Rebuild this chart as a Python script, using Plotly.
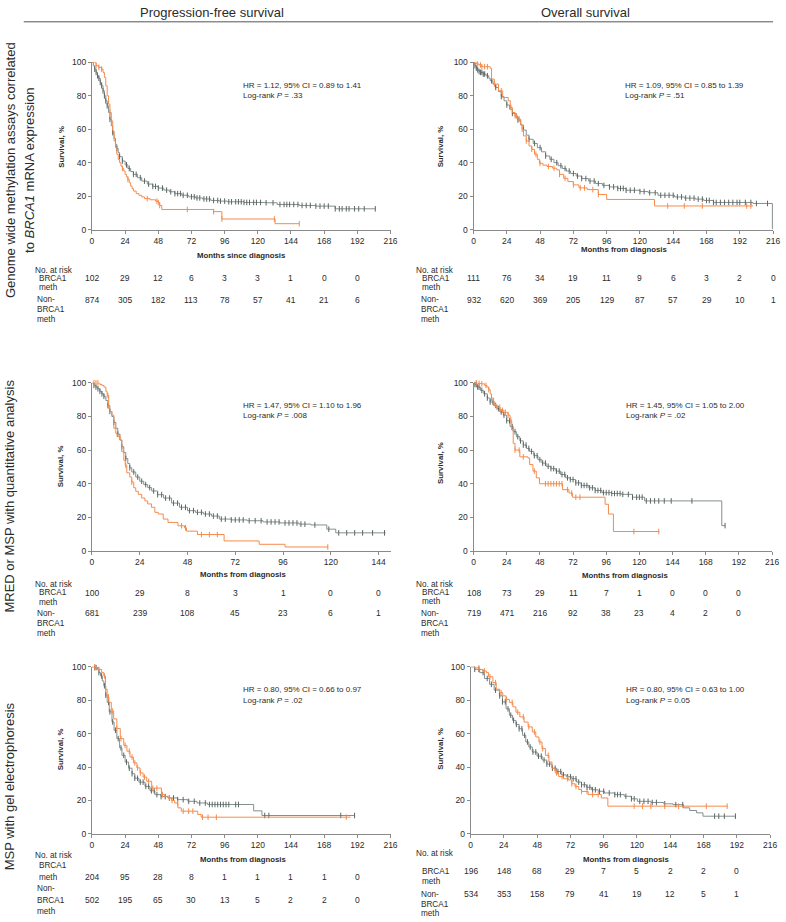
import numpy as np
import plotly.graph_objects as go

# ---------------- DATA ----------------
x_ticks_216 = [0, 24, 48, 72, 96, 120, 144, 168, 192, 216]
x_ticks_144 = [0, 24, 48, 72, 96, 120, 144]
y_ticks = [0, 20, 40, 60, 80, 100]

# Panel 1: PFS, genome wide methylation
p1_meth_t = [0, 3, 5, 7, 8, 9, 10, 11, 12, 13, 14, 15, 16, 17, 18, 19, 20, 21, 22, 23, 24, 25, 26, 27, 28, 29, 30, 32, 34, 36, 38, 42, 46, 48, 49, 50.5, 88, 94, 132.5]
p1_meth_s = [100, 98, 97, 96, 94, 91, 86, 80, 75, 70, 65, 59, 53, 49, 45, 42, 40, 38, 36.5, 35, 33, 31.5, 30, 28, 26, 24.5, 23, 21.5, 20.5, 19.5, 18.5, 17.8, 17, 16.2, 14.4, 12, 10.7, 6.3, 3.5]
p1_meth_end = 150
p1_meth_cens = [3, 5, 7, 13, 22, 26, 40, 47, 48, 49, 69, 88, 94, 132, 150]
p1_non_t = [0, 1, 2, 3, 4, 5, 6, 7, 8, 9, 10, 11, 12, 13, 14, 15, 16, 17, 18, 19, 20, 22, 24, 26, 28, 30, 33, 36, 40, 44, 48, 52, 56, 60, 65, 70, 75, 80, 86, 92, 98, 110, 126, 134, 150, 162, 176]
p1_non_s = [100, 98, 96, 94, 92, 90.5, 88, 86, 83, 80, 77, 74, 70, 66, 62, 58, 54.5, 51, 48.5, 46, 43.6, 41, 38.7, 36.5, 34.7, 33, 31, 29, 27.2, 25.8, 24.8, 23.6, 22.6, 21.5, 20.5, 19.6, 18.9, 18.3, 17.4, 17, 16.6, 16.2, 16, 15, 14.4, 14, 12.4]
p1_non_end = 205
p1_non_cens = [2, 3, 4, 5, 6, 7, 8, 9, 10, 11, 13, 15, 18, 20, 22, 25, 27, 30, 32, 35, 38, 41, 44, 46, 48, 51, 54, 57, 60, 62, 64, 66, 69, 72, 74, 76, 78, 81, 83, 85, 88, 91, 93, 96, 99, 101, 104, 106, 108, 110, 112, 114, 117, 119, 122, 126, 131, 136, 139, 141, 143, 146, 149, 152, 155, 158, 162, 165, 168, 171, 176, 179, 181, 184, 186, 190, 193, 197, 205]
p1_risk_meth = [102, 29, 12, 6, 3, 3, 1, 0, 0]
p1_risk_non = [874, 305, 182, 113, 78, 57, 41, 21, 6]

# Panel 2: OS, genome wide methylation
p2_meth_t = [0, 2, 4, 6, 12, 13, 15, 18, 21, 25, 26.5, 28, 30, 32, 34, 35, 36, 38, 40, 42, 44, 46, 47.5, 50, 53, 57, 60, 62, 65, 68, 72, 76, 82, 90, 96, 130.5]
p2_meth_s = [100, 99, 98.4, 97.4, 96.5, 90, 87, 83, 79, 77, 73, 70, 68, 66, 63, 60, 56, 53, 50, 48, 45, 42, 39.6, 38.5, 37.7, 36.7, 35.7, 33, 30.6, 28.7, 26.7, 24.9, 23.9, 21, 18, 14.1]
p2_meth_end = 201.6
p2_meth_cens = [3, 5, 6, 8, 10, 15, 20, 27, 30, 31, 33, 35, 38, 42, 45, 48, 54, 58, 62, 66, 72, 77, 80, 86, 90, 140, 152, 165, 197, 200]
p2_non_t = [0, 1, 2, 3, 4, 5, 7, 9, 11, 12, 14, 16, 18, 20, 22, 24, 26, 28, 30, 32, 34, 36, 38, 40, 43, 46, 49, 52, 55, 58, 61, 64, 67, 70, 74, 78, 83, 88, 93, 98, 104, 110, 120, 126, 133, 145, 152, 160, 166, 173, 201.5, 215.5]
p2_non_s = [100, 98, 96.5, 95.5, 94.5, 94, 93, 92, 90.5, 89, 87, 85, 82.5, 79.5, 77, 74.5, 72, 69.5, 67.5, 65.5, 62.5, 59.5, 56.5, 54, 51.5, 49, 46.5, 44, 42, 40, 38.2, 36.5, 35, 33.5, 32, 30.5, 29, 27.5, 26.4, 25.5, 24.6, 23.5, 22.7, 22, 20.5, 19.5, 18.8, 18.2, 17.4, 16.2, 15.6, 0]
p2_non_end = 215.5
p2_non_cens = [1, 2, 3, 4, 5, 6, 7, 8, 10, 13, 16, 20, 24, 28, 32, 36, 40, 44, 48, 52, 56, 60, 63, 66, 69, 72, 75, 78, 81, 84, 87, 90, 94, 98, 101, 104, 106, 108, 110, 113, 116, 120, 123, 127, 131, 135, 138, 141, 144, 147, 150, 153, 156, 159, 162, 165, 168, 170, 173, 175, 178, 181, 184, 187, 190, 192, 196, 200, 204, 212]
p2_risk_meth = [111, 76, 34, 19, 11, 9, 6, 3, 2, 0]
p2_risk_non = [932, 620, 369, 205, 129, 87, 57, 29, 10, 1]

# Panel 3: PFS, MRED or MSP quantitative
p3_meth_t = [0, 4, 5, 6, 7, 7.6, 8.4, 9, 10, 11, 12, 12.6, 14.2, 15, 16, 16.7, 17.5, 19, 20, 21, 22, 23.3, 25, 26.6, 28, 29.9, 31.6, 33.3, 35.8, 38.2, 43.2, 46.5, 47.5, 53, 66.4, 84, 97]
p3_meth_s = [100, 99, 98.5, 97.5, 95, 92.5, 84.7, 83, 80.8, 73, 70, 68, 66, 59, 54, 51, 46.5, 44, 41, 37.6, 35.5, 33.7, 31.5, 29.8, 28, 26, 23, 22, 19, 17, 15, 13.8, 11.8, 9.8, 6, 4, 2.4]
p3_meth_end = 118.7
p3_meth_cens = [1, 2, 3, 8, 14, 17, 20, 45, 47, 55, 59, 63, 118.5]
p3_non_t = [0, 1, 2, 3, 4, 5, 6, 7, 8, 9, 10, 11, 12, 13, 14, 15, 16, 17, 18, 19, 20, 22, 24, 26, 28, 30, 33, 36, 40, 44, 48, 52, 56, 60, 64, 70, 78, 86, 94.5, 104, 110, 118, 122.5]
p3_non_s = [100, 98.5, 97.5, 96.5, 95, 93.5, 92, 89.5, 86.5, 83, 80, 76.5, 73, 69.5, 66, 62, 58.5, 55, 52, 49.5, 47, 44, 41.5, 39.5, 37.7, 35.7, 33.5, 31.5, 28.5, 26, 24, 23, 22, 20.8, 19, 18.5, 18, 17.3, 16.7, 16, 15.5, 13, 10.8]
p3_non_end = 147.5
p3_non_cens = [1, 2, 3, 4, 5, 6, 8, 9, 11, 13, 15, 17, 19, 21, 23, 25, 27, 29, 31, 33, 35, 37, 39, 41, 43, 45, 47, 49, 51, 53, 55, 57, 59, 61, 63, 65, 67, 70, 72, 74, 76, 79, 82, 85, 88, 90, 92, 94, 97, 99, 101, 103, 105, 107, 112, 119, 124, 128, 132, 136, 141, 147]
p3_risk_meth = [100, 29, 8, 3, 1, 0, 0]
p3_risk_non = [681, 239, 108, 45, 23, 6, 1]

# Panel 4: OS, MRED or MSP quantitative
p4_meth_t = [0, 3, 6, 8, 9.7, 11, 12, 13, 14.5, 16, 19.2, 22, 25, 26.4, 27.6, 28.7, 30, 33.5, 39.4, 40.6, 43, 45.4, 47.7, 64.4, 69, 71.5, 95.2, 97.6, 101.2]
p4_meth_s = [100, 99.7, 99.4, 98.5, 97.5, 96, 93.5, 91, 87.6, 85.5, 83.7, 82.5, 80.8, 77.8, 72, 64, 60, 56, 55.3, 51.4, 47.5, 43.5, 40, 36.5, 34.5, 32, 27.8, 22, 11.6]
p4_meth_end = 134.4
p4_meth_cens = [2, 4, 6, 9, 11, 13, 15, 17, 19, 21, 23, 25, 27, 30, 33, 36, 44, 52, 54, 56, 58, 60, 62, 64, 68, 71, 74, 77, 116, 134]
p4_non_t = [0, 1, 2.6, 5, 7.4, 10, 12, 14.5, 16.9, 19, 21.6, 24, 26.4, 28.7, 31, 33.5, 36, 38.3, 40.6, 43.6, 46.6, 49.5, 52.5, 56, 59.6, 63, 66.7, 70, 73.9, 78, 83.4, 88, 92.9, 100, 107, 115, 123.8, 179.6]
p4_non_s = [100, 99, 97.5, 95.5, 93.5, 91, 88.6, 86.6, 84.7, 82.7, 80.8, 77.5, 74, 71, 68, 65.5, 63, 61, 59.2, 56.7, 54.3, 52.3, 50.4, 49, 47.5, 45.5, 43.5, 42.5, 40.5, 39, 37.6, 36, 34.7, 34.2, 33.7, 32, 29.8, 15.1]
p4_non_end = 182
p4_non_cens = [1, 2, 3, 4, 6, 8, 10, 12, 14, 16, 18, 20, 22, 24, 26, 28, 30, 32, 34, 36, 38, 40, 42, 44, 46, 48, 50, 52, 54, 56, 58, 60, 62, 64, 66, 68, 70, 72, 74, 76, 78, 80, 82, 84, 86, 88, 90, 92, 94, 96, 98, 100, 102, 104, 106, 108, 112, 115, 118, 120, 122, 125, 128, 131, 134, 138, 143, 158, 182]
p4_risk_meth = [108, 73, 29, 11, 7, 1, 0, 0, 0]
p4_risk_non = [719, 471, 216, 92, 38, 23, 4, 2, 0]

# Panel 5: PFS, MSP with gel electrophoresis
p5_meth_t = [0, 3, 5, 7, 8.6, 9.8, 11, 12.2, 14, 15.7, 18, 20.5, 23, 25.3, 27.5, 30, 32.5, 34.8, 37, 39.6, 43.2, 50.3, 52.5, 55, 57.5, 59.8, 62.2, 64.6, 76.5, 79]
p5_meth_s = [100, 99.5, 98.4, 96.5, 94.5, 86.6, 82, 78.7, 73.5, 68.8, 63, 57, 53, 49.5, 46, 42.5, 39.5, 36.5, 34, 31.5, 27.4, 23.5, 22.5, 21.5, 20, 18.5, 15.6, 13.6, 11.6, 10]
p5_meth_end = 187
p5_meth_cens = [2, 5, 9, 12, 15, 18, 21, 24, 27, 29, 31, 33, 35, 38, 41, 44, 47, 51, 56, 58, 62, 66, 70, 73, 80, 84, 90, 184]
p5_non_t = [0, 2, 4, 5, 6.2, 7.5, 8.6, 10, 11, 12.5, 14.5, 16, 18, 20, 21.7, 24, 26.5, 29, 31, 34, 38.4, 42, 45.5, 50, 55, 62, 69.4, 76, 83.7, 117, 123]
p5_non_s = [100, 99.5, 98.4, 96.5, 94.5, 91.5, 88.6, 83, 78.7, 73, 67, 62, 57, 51.5, 47, 43, 39.3, 36, 33.3, 31, 28.4, 25.8, 23.5, 22.3, 21.5, 20.5, 19.5, 18.5, 17.6, 13.8, 11]
p5_non_end = 190
p5_non_cens = [2, 3, 5, 7, 9, 10, 12, 13, 15, 17, 19, 21, 23, 25, 27, 29, 31, 33, 35, 37, 39, 41, 43, 45, 47, 50, 53, 56, 59, 62, 66, 70, 74, 78, 82, 85, 87, 89, 91, 93, 95, 97, 99, 104, 106, 125, 128, 180, 190]
p5_risk_meth = [204, 95, 28, 8, 1, 1, 1, 1, 0]
p5_risk_non = [502, 195, 65, 30, 13, 5, 2, 2, 0]

# Panel 6: OS, MSP with gel electrophoresis
p6_meth_t = [0, 3, 6.6, 9, 11.4, 13, 16.1, 18.5, 21, 23.2, 25.5, 28, 30.5, 32.7, 35.5, 38.6, 41.5, 44.5, 47, 49.3, 51.5, 54, 56.5, 58.7, 61, 63.5, 67, 70.6, 73, 75.3, 78, 80, 84.8, 94.3, 99]
p6_meth_s = [100, 99.3, 98.4, 97.5, 96.5, 94, 90.5, 86.6, 84.5, 82.6, 80.5, 78.7, 76, 72.8, 70, 66.9, 64, 61, 58, 55, 51, 47, 43, 39.3, 36.5, 34.3, 33, 32.3, 30, 28.4, 26.5, 25.4, 23.5, 21.5, 16.6]
p6_meth_end = 185.5
p6_meth_cens = [6, 10, 14, 18, 22, 26, 30, 34, 38, 42, 46, 50, 52, 56, 62, 66, 70, 73, 76, 80, 84, 88, 92, 118, 124, 130, 140, 150, 170, 185]
p6_non_t = [0, 3, 6.6, 10, 13.7, 17, 20.8, 23, 25.6, 28, 30.3, 32.7, 35, 37.5, 39.8, 42, 44.5, 48, 51.6, 55, 58.7, 62, 65.8, 69, 73, 76.5, 80, 83.5, 87.2, 92, 96.6, 104, 110.8, 116, 120.3, 130, 139.3, 146, 153.5, 158, 163, 167.6]
p6_non_s = [100, 98.5, 96.5, 93, 89.5, 86, 82.6, 79, 74.8, 71, 67.9, 65.5, 62.9, 59, 55, 52, 49, 46.5, 44.2, 41.8, 39.3, 37.3, 35.3, 34.2, 33, 31, 29.4, 27.9, 26.4, 25.5, 24.5, 23.5, 22.5, 21, 19.5, 18.8, 18, 17.5, 15.6, 14, 12.6, 10.6]
p6_non_end = 191.4
p6_non_cens = [3, 6, 9, 12, 15, 18, 21, 23, 25, 27, 29, 31, 33, 35, 37, 39, 41, 43, 45, 47, 49, 51, 53, 55, 57, 59, 61, 63, 65, 67, 70, 72, 74, 76, 78, 80, 82, 84, 86, 88, 90, 93, 96, 100, 104, 106, 108, 112, 116, 118, 122, 125, 128, 131, 134, 140, 148, 153, 176, 179, 183, 191]
p6_risk_meth = [196, 148, 68, 29, 7, 5, 2, 2, 0]
p6_risk_non = [534, 353, 158, 79, 41, 19, 12, 5, 1]

hr_texts = [
    ("HR = 1.12, 95% CI = 0.89 to 1.41", "Log-rank <i>P</i> = .33"),
    ("HR = 1.09, 95% CI = 0.85 to 1.39", "Log-rank <i>P</i> = .51"),
    ("HR = 1.47, 95% CI = 1.10 to 1.96", "Log-rank <i>P</i> = .008"),
    ("HR = 1.45, 95% CI = 1.05 to 2.00", "Log-rank <i>P</i> = .02"),
    ("HR = 0.80, 95% CI = 0.66 to 0.97", "Log-rank <i>P</i> = .02"),
    ("HR = 0.80, 95% CI = 0.63 to 1.00", "Log-rank <i>P</i> = 0.05"),
]
x_titles = ["Months since diagnosis", "Months from diagnosis", "Months from diagnosis",
            "Months from diagnosis", "Months from diagnosis", "Months from diagnosis"]
col_titles = ["Progression-free survival", "Overall survival"]
row_titles = [["Genome wide methylation assays correlated", "to <i>BRCA1</i> mRNA expression"],
              ["MRED or MSP with quantitative analysis"],
              ["MSP with gel electrophoresis"]]

# ---------------- LAYOUT (pixel geometry) ----------------
W, H = 786, 922
FONT = "Arial, Liberation Sans, sans-serif"
ORANGE = "#F58B4C"
GRAY = "#84908F"
GRAY_MARK = "#5C6766"
TXT = "#2b2b2b"


def fx(p):
    return p / W


def fy(p):
    return 1 - p / H


panels = [
    dict(meth=(p1_meth_t, p1_meth_s, p1_meth_end, p1_meth_cens), non=(p1_non_t, p1_non_s, p1_non_end, p1_non_cens),
         risk=(p1_risk_meth, p1_risk_non), xd=(91, 393), yd=(58, 227), xr=216, ticks=x_ticks_216,
         hr=(242, 81, 91), xt=(242, 253), yt=(60, 143), lab=(31, 35, 33, 268, 276, 286, 298, 308, 318, 276, 298)),
    dict(meth=(p2_meth_t, p2_meth_s, p2_meth_end, p2_meth_cens), non=(p2_non_t, p2_non_s, p2_non_end, p2_non_cens),
         risk=(p2_risk_meth, p2_risk_non), xd=(477, 780), yd=(58, 227), xr=216, ticks=x_ticks_216,
         hr=(628, 81, 91), xt=(629, 247), yt=(444, 143), lab=(417, 423, 422, 268, 276, 286, 298, 308, 318, 276, 298)),
    dict(meth=(p3_meth_t, p3_meth_s, p3_meth_end, p3_meth_cens), non=(p3_non_t, p3_non_s, p3_non_end, p3_non_cens),
         risk=(p3_risk_meth, p3_risk_non), xd=(91, 393), yd=(382, 552), xr=150, ticks=x_ticks_144,
         hr=(242, 405, 415), xt=(244, 576), yt=(60, 466), lab=(31, 35, 33, 586, 594, 604, 615, 625, 635, 594, 615)),
    dict(meth=(p4_meth_t, p4_meth_s, p4_meth_end, p4_meth_cens), non=(p4_non_t, p4_non_s, p4_non_end, p4_non_cens),
         risk=(p4_risk_meth, p4_risk_non), xd=(477, 779), yd=(382, 552), xr=216, ticks=x_ticks_216,
         hr=(629, 405, 415), xt=(630, 577), yt=(444, 463), lab=(417, 423, 422, 586, 594, 603, 615, 625, 635, 594, 615)),
    dict(meth=(p5_meth_t, p5_meth_s, p5_meth_end, p5_meth_cens), non=(p5_non_t, p5_non_s, p5_non_end, p5_non_cens),
         risk=(p5_risk_meth, p5_risk_non), xd=(91, 393), yd=(669, 838), xr=216, ticks=x_ticks_216,
         hr=(242, 692, 703), xt=(244, 864), yt=(60, 752), lab=(31, 35, 33, 860, 870, 882, 893, 905, 916, 882, 905)),
    dict(meth=(p6_meth_t, p6_meth_s, p6_meth_end, p6_meth_cens), non=(p6_non_t, p6_non_s, p6_non_end, p6_non_cens),
         risk=(p6_risk_meth, p6_risk_non), xd=(474, 777), yd=(669, 838), xr=216, ticks=x_ticks_216,
         hr=(629, 692, 703), xt=(631, 864), yt=(444, 752), lab=(417, 423, 422, 858, 876, 886, 899, 909, 918, 876, 899)),
]


def step_at(t, s, c):
    t = np.asarray(t, float)
    s = np.asarray(s, float)
    idx = np.searchsorted(t, np.asarray(c, float), side="right") - 1
    return s[np.clip(idx, 0, len(s) - 1)]


fig = go.Figure()
annotations = []
layout_axes = {}


def ann(text, x, y, size, xanchor="center", yanchor="middle", xref="paper", yref="paper", angle=0, color=TXT):
    annotations.append(dict(text=text, x=x, y=y, xref=xref, yref=yref, showarrow=False,
                            xanchor=xanchor, yanchor=yanchor, textangle=angle,
                            font=dict(family=FONT, size=size, color=color)))


for i, p in enumerate(panels, start=1):
    xa = "x" if i == 1 else f"x{i}"
    ya = "y" if i == 1 else f"y{i}"
    axis_common = dict(showline=True, linecolor="#8a8a8a", linewidth=1, ticks="outside", ticklen=3,
                       tickcolor="#8a8a8a", tickwidth=1, showgrid=False, zeroline=False,
                       tickfont=dict(family=FONT, size=8.5, color=TXT), fixedrange=True)
    layout_axes["xaxis" if i == 1 else f"xaxis{i}"] = dict(
        axis_common, domain=[fx(p["xd"][0]), fx(p["xd"][1])], anchor=ya, range=[0, p["xr"]],
        tickvals=p["ticks"], ticktext=[str(v) for v in p["ticks"]])
    layout_axes["yaxis" if i == 1 else f"yaxis{i}"] = dict(
        axis_common, domain=[fy(p["yd"][1]), fy(p["yd"][0])], anchor=xa, range=[0, 100],
        tickvals=y_ticks, ticktext=[str(v) for v in y_ticks])

    for key, col, mcol in (("non", GRAY, GRAY_MARK), ("meth", ORANGE, ORANGE)):
        t, s, end, cens = p[key]
        assert len(t) == len(s)
        fig.add_trace(go.Scatter(x=list(t) + [end], y=list(s) + [s[-1]], mode="lines",
                                 line=dict(shape="hv", color=col, width=1), xaxis=xa, yaxis=ya,
                                 hoverinfo="skip", showlegend=False))
        fig.add_trace(go.Scatter(x=cens, y=step_at(t, s, cens), mode="markers",
                                 marker=dict(symbol="line-ns", size=4, color=mcol,
                                             line=dict(width=1, color=mcol)),
                                 xaxis=xa, yaxis=ya, hoverinfo="skip", showlegend=False, cliponaxis=False))

    # HR text
    hx, hy1, hy2 = p["hr"]
    ann(hr_texts[i - 1][0], fx(hx), fy(hy1), 8, xanchor="left")
    ann(hr_texts[i - 1][1], fx(hx), fy(hy2), 8, xanchor="left")
    # axis titles
    ann("<b>" + x_titles[i - 1] + "</b>", fx(p["xt"][0]), fy(p["xt"][1]), 7.8)
    ann("<b>Survival, %</b>", fx(p["yt"][0]), fy(p["yt"][1]), 7.8, angle=-90)
    # at-risk table
    lx0, lx1, lx2, y_no, y_b1, y_m1, y_n2, y_b2, y_m2, y_r1, y_r2 = p["lab"]
    ann("No. at risk", fx(lx0), fy(y_no), 8.2, xanchor="left")
    ann("BRCA1", fx(lx1), fy(y_b1), 8.2, xanchor="left")
    ann("meth", fx(lx1), fy(y_m1), 8.2, xanchor="left")
    ann("Non-", fx(lx2), fy(y_n2), 8.2, xanchor="left")
    ann("BRCA1", fx(lx2), fy(y_b2), 8.2, xanchor="left")
    ann("meth", fx(lx2), fy(y_m2), 8.2, xanchor="left")
    rm, rn = p["risk"]
    for k, v in enumerate(rm):
        ann(str(v), p["ticks"][k], fy(y_r1), 8.5, xref=xa)
    for k, v in enumerate(rn):
        ann(str(v), p["ticks"][k], fy(y_r2), 8.5, xref=xa)

# column headings
ann(col_titles[0], fx(212), fy(8), 13)
ann(col_titles[1], fx(590), fy(8), 13)
# row headings (rotated)
ann(row_titles[0][0], fx(8), fy(167), 13, angle=-90)
ann(row_titles[0][1], fx(27), fy(167), 13, angle=-90)
ann(row_titles[1][0], fx(8), fy(496), 13, angle=-90)
ann(row_titles[2][0], fx(8), fy(790), 13, angle=-90)

fig.update_layout(
    width=W, height=H, margin=dict(l=0, r=0, t=0, b=0),
    paper_bgcolor="white", plot_bgcolor="white",
    font=dict(family=FONT, color=TXT),
    annotations=annotations,
    shapes=[dict(type="line", xref="paper", yref="paper", x0=fx(22), x1=fx(780), y0=fy(17), y1=fy(17),
                 line=dict(color="#555555", width=1))],
    **layout_axes,
)

fig.write_html("out.html", config={"displayModeBar": False},
               post_script="document.body.style.margin='0px'; document.body.style.overflow='hidden';")
